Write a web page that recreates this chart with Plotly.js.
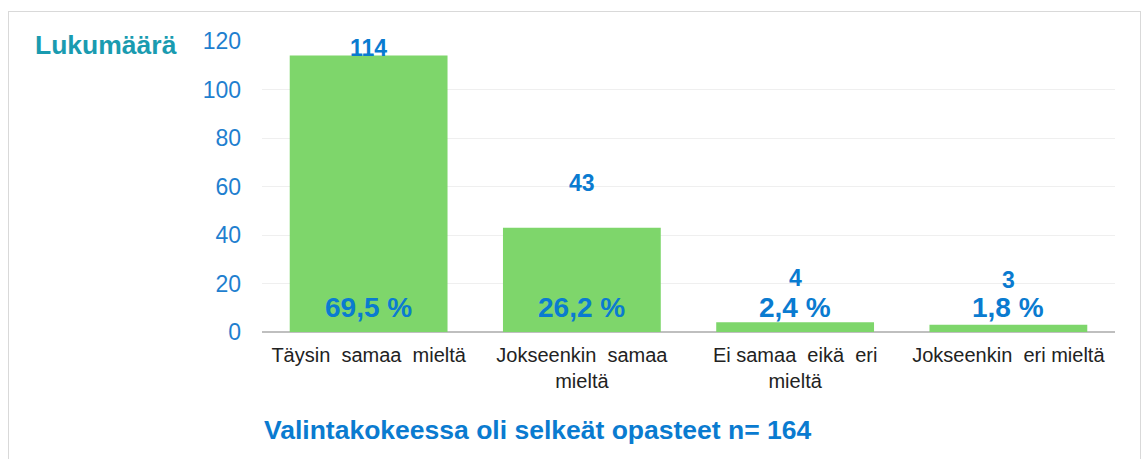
<!DOCTYPE html>
<html>
<head>
<meta charset="utf-8">
<script src="https://cdn.plot.ly/plotly-3.0.1.min.js"></script>
<style>
html,body{margin:0;padding:0;background:#fff;}
#wrap{position:relative;width:1144px;height:459px;overflow:hidden;}
#chart{position:absolute;left:0;top:0;width:1144px;height:459px;}
#frame{position:absolute;left:8px;top:11px;width:1133px;height:460px;border:1px solid #d9d9d9;box-sizing:border-box;pointer-events:none;}
</style>
</head>
<body>
<div id="wrap">
<div id="chart"></div>
<div id="frame"></div>
</div>
<script>
const categories = ["Täysin  samaa  mieltä", "Jokseenkin  samaa<br>mieltä", "Ei samaa  eikä  eri<br>mieltä", "Jokseenkin  eri mieltä"];
const counts = [114, 43, 4, 3];
const percents = ["69,5 %", "26,2 %", "2,4 %", "1,8 %"];
const yTicks = [0, 20, 40, 60, 80, 100, 120];
const chartTitle = "Valintakokeessa oli selkeät opasteet n= 164";
const yTitle = "Lukumäärä";

const blue = "#0a7bd0";
const FONT = "Liberation Sans, Arial";
const annotations = [];
categories.forEach((c, i) => {
  annotations.push({
    x: i, y: Math.min(counts[i] + 18.3, 117), xref: "x", yref: "y",
    text: "<b>" + counts[i] + "</b>", showarrow: false,
    font: {family: FONT, size: 23, color: blue},
    yanchor: "middle"
  });
  annotations.push({
    x: i, y: 10, xref: "x", yref: "y",
    text: "<b>" + percents[i] + "</b>", showarrow: false,
    font: {family: FONT, size: 28, color: blue},
    yanchor: "middle"
  });
});
annotations.push({
  xref: "paper", yref: "paper", x: 0, y: -0.337, xanchor: "left", yanchor: "middle",
  text: "<b>" + chartTitle + "</b>", showarrow: false,
  font: {family: FONT, size: 26.5, color: blue}
});
annotations.push({
  xref: "paper", yref: "paper", x: -0.269, y: 0.986, xanchor: "left", yanchor: "middle",
  text: "<b>" + yTitle + "</b>", showarrow: false,
  font: {family: FONT, size: 26.5, color: "#1a9bb0"}
});

const trace = {
  type: "bar",
  x: categories.map((c, i) => i),
  y: counts,
  width: 0.74,
  marker: {color: "#7ed66b"},
  hoverinfo: "none"
};

const layout = {
  width: 1144, height: 459,
  margin: {l: 262, r: 29, t: 41, b: 127},
  paper_bgcolor: "#ffffff", plot_bgcolor: "#ffffff",
  showlegend: false,
  xaxis: {
    range: [-0.5, 3.5],
    tickmode: "array", tickvals: categories.map((c, i) => i), ticktext: categories,
    tickfont: {family: FONT, size: 20, color: "#222222"},
    showgrid: false, zeroline: false, showline: false, ticks: "",
    ticklabelstandoff: 9
  },
  yaxis: {
    range: [0, 120],
    tickmode: "array", tickvals: yTicks,
    tickfont: {family: FONT, size: 23, color: "#1f7fcf"},
    showgrid: true, gridcolor: "#efefef", gridwidth: 1,
    zeroline: true, zerolinecolor: "#bfbfbf", zerolinewidth: 2,
    showline: false, ticks: "", ticklabelstandoff: 20
  },
  annotations: annotations
};

Plotly.newPlot("chart", [trace], layout, {displayModeBar: false, staticPlot: true});
</script>
</body>
</html>
